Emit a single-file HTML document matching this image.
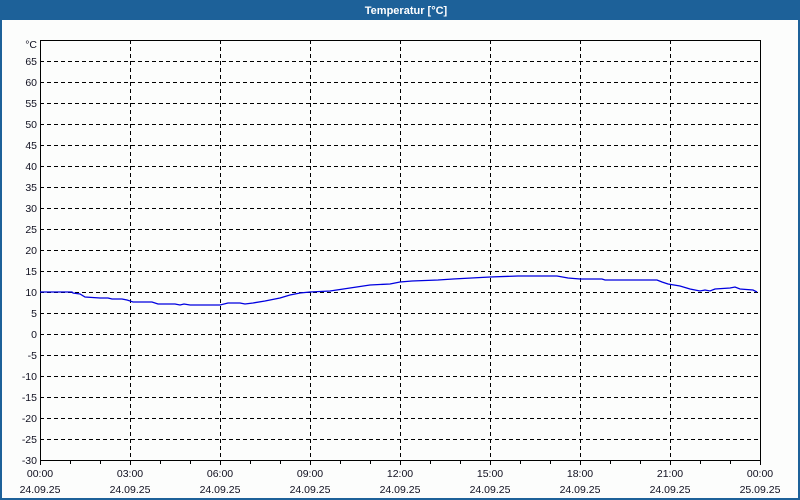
<!DOCTYPE html>
<html><head><meta charset="utf-8"><style>
html,body{margin:0;padding:0;background:#fcfdfc;}
svg{display:block;}
text{font-family:"Liberation Sans","DejaVu Sans",sans-serif;font-size:10.5px;fill:#101020;}
</style></head><body>
<svg width="800" height="500" viewBox="0 0 800 500" xmlns="http://www.w3.org/2000/svg">
<rect x="0" y="0" width="800" height="500" fill="#fcfdfc"/>
<rect x="0" y="0" width="800" height="20" fill="#1d6199"/>
<rect x="0" y="0" width="2" height="500" fill="#1d6199"/>
<rect x="798" y="0" width="2" height="500" fill="#1d6199"/>
<rect x="0" y="498" width="800" height="2" fill="#1d6199"/>
<text x="406" y="14" text-anchor="middle" style="fill:#fff;font-weight:bold;font-size:11px">Temperatur [°C]</text>
<g stroke="#000" stroke-width="1" stroke-dasharray="4,3" fill="none">
<path d="M40 61.5H760M40 82.5H760M40 103.5H760M40 124.5H760M40 145.5H760M40 166.5H760M40 187.5H760M40 208.5H760M40 229.5H760M40 250.5H760M40 271.5H760M40 292.5H760M40 313.5H760M40 334.5H760M40 355.5H760M40 376.5H760M40 397.5H760M40 418.5H760M40 439.5H760"/>
<path d="M130.5 40V460M220.5 40V460M310.5 40V460M400.5 40V460M490.5 40V460M580.5 40V460M670.5 40V460"/>
</g>
<rect x="40.5" y="40.5" width="720" height="420" fill="none" stroke="#000"/>
<g stroke="#000">
<path d="M40.5 460v5M70.5 460v4M100.5 460v4M130.5 460v5M160.5 460v4M190.5 460v4M220.5 460v5M250.5 460v4M280.5 460v4M310.5 460v5M340.5 460v4M370.5 460v4M400.5 460v5M430.5 460v4M460.5 460v4M490.5 460v5M520.5 460v4M550.5 460v4M580.5 460v5M610.5 460v4M640.5 460v4M670.5 460v5M700.5 460v4M730.5 460v4M760.5 460v5"/>
</g>
<polyline fill="none" stroke="#0000e0" stroke-width="1.3" points="40,292 72,292 73,293 80,294 85,297 100,298 108,298 112,299 122,299 127,300 133,302 152,302 158,304 175,304 180,305 184,304 190,305 220,305 228,303 240,303 245,304 253,303 265,301 280,298 290,295 300,293 310,292 330,291 350,288 370,285 390,284 400,282 412,281 438,280 453,279 490,277 518,276 557,276 568,278 580,279 602,279 605,280 657,280 662,282 668,284 680,286 690,289 700,291 705,290 710,291 715,289 730,288 735,287 740,289 753,290 757,292"/>
<g text-anchor="end">
<text x="37" y="48">°C</text>
<text x="37" y="65">65</text><text x="37" y="86">60</text><text x="37" y="107">55</text><text x="37" y="128">50</text><text x="37" y="149">45</text><text x="37" y="170">40</text><text x="37" y="191">35</text><text x="37" y="212">30</text><text x="37" y="233">25</text><text x="37" y="254">20</text><text x="37" y="275">15</text><text x="37" y="296">10</text><text x="37" y="317">5</text><text x="37" y="338">0</text><text x="37" y="359">-5</text><text x="37" y="380">-10</text><text x="37" y="401">-15</text><text x="37" y="422">-20</text><text x="37" y="443">-25</text><text x="37" y="464">-30</text>
</g>
<g text-anchor="middle">
<text x="40" y="477">00:00</text><text x="130" y="477">03:00</text><text x="220" y="477">06:00</text><text x="310" y="477">09:00</text><text x="400" y="477">12:00</text><text x="490" y="477">15:00</text><text x="580" y="477">18:00</text><text x="670" y="477">21:00</text><text x="760" y="477">00:00</text>
<text x="40" y="493">24.09.25</text><text x="130" y="493">24.09.25</text><text x="220" y="493">24.09.25</text><text x="310" y="493">24.09.25</text><text x="400" y="493">24.09.25</text><text x="490" y="493">24.09.25</text><text x="580" y="493">24.09.25</text><text x="670" y="493">24.09.25</text><text x="760" y="493">25.09.25</text>
</g>
</svg>
</body></html>
